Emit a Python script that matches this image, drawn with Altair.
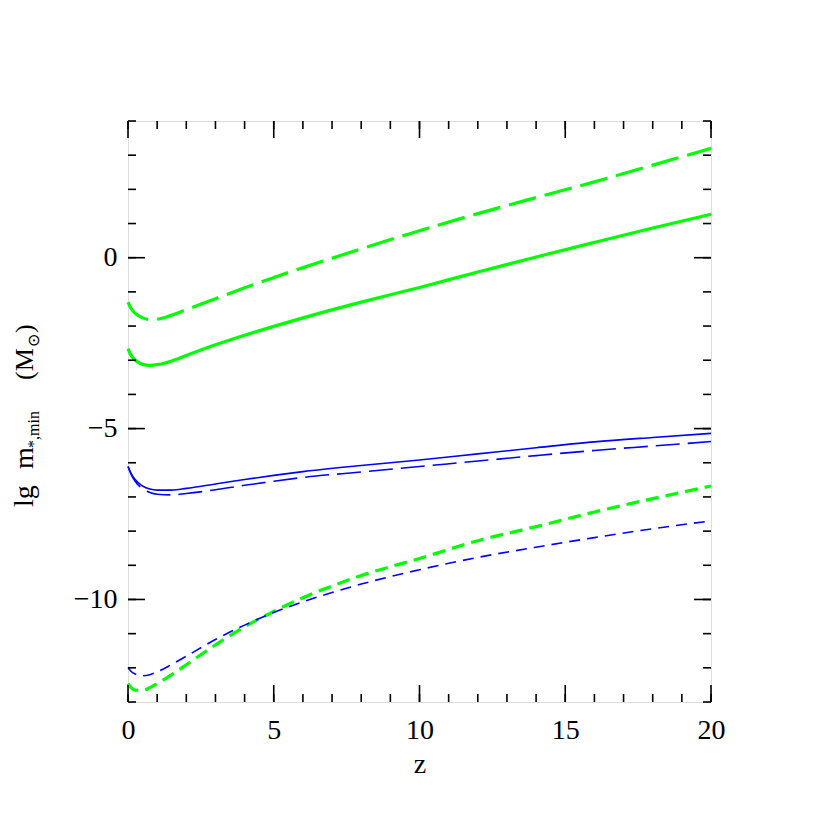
import altair as alt
import pandas as pd

# redshift grid
z = [0, 0.1, 0.25, 0.5, 0.75, 1, 1.5, 2, 3, 4, 5, 6, 8, 10, 12, 14, 16, 18, 20]

green_longdash = [-1.30, -1.48, -1.63, -1.76, -1.81, -1.80, -1.68, -1.52, -1.20, -0.88,
                  -0.58, -0.29, 0.26, 0.79, 1.29, 1.76, 2.22, 2.71, 3.20]
green_solid = [-2.66, -2.85, -3.00, -3.12, -3.15, -3.13, -3.02, -2.86, -2.55, -2.27,
               -2.01, -1.76, -1.30, -0.87, -0.42, 0.02, 0.45, 0.87, 1.27]
blue_solid = [-6.11, -6.30, -6.50, -6.68, -6.77, -6.80, -6.80, -6.75, -6.62, -6.49,
              -6.37, -6.26, -6.08, -5.92, -5.74, -5.56, -5.39, -5.26, -5.14]
blue_longdash = [-6.11, -6.33, -6.55, -6.76, -6.87, -6.92, -6.94, -6.90, -6.79, -6.66,
                 -6.54, -6.43, -6.27, -6.11, -5.95, -5.79, -5.64, -5.51, -5.38]
green_shortdash = [-12.46, -12.57, -12.65, -12.66, -12.58, -12.46, -12.20, -11.91, -11.33, -10.80,
                   -10.35, -9.95, -9.30, -8.80, -8.28, -7.87, -7.44, -7.05, -6.68]
blue_shortdash = [-11.99, -12.10, -12.18, -12.23, -12.20, -12.12, -11.90, -11.66, -11.17, -10.75,
                  -10.38, -10.07, -9.55, -9.13, -8.77, -8.47, -8.19, -7.93, -7.70]

x_minor = list(range(0, 21))
x_major = [0, 5, 10, 15, 20]
y_minor = list(range(-13, 5))
y_major = [-10, -5, 0]

W, H = 583, 581
GREEN = "#00ff00"
BLUE = "#0000ff"
FONT = "Liberation Serif"

xs = alt.Scale(domain=[0, 20], nice=False, zero=False)
ys = alt.Scale(domain=[-13, 4], nice=False, zero=False)

def line(vals, color, width, dash):
    df = pd.DataFrame({"z": z, "v": vals})
    kw = dict(color=color, strokeWidth=width, interpolate="monotone")
    if dash:
        kw["strokeDash"] = dash
    return alt.Chart(df).mark_line(**kw).encode(
        x=alt.X("z:Q", scale=xs,
                axis=alt.Axis(values=x_major, ticks=False, domain=False, grid=False,
                              labelFontSize=28, labelFont=FONT, labelPadding=14,
                              labelFlush=False, labelColor="black", title="z",
                              titleFont=FONT, titleFontSize=28, titleFontWeight="normal",
                              titleColor="black", titlePadding=6)),
        y=alt.Y("v:Q", scale=ys,
                axis=alt.Axis(values=y_major, ticks=False, domain=False, grid=False,
                              labelFontSize=28, labelFont=FONT, labelPadding=11,
                              labelFlush=False, labelColor="black", title=None)),
    )

layers = [
    line(green_longdash, GREEN, 3.2, [28, 9]),
    line(green_solid, GREEN, 3.2, None),
    line(blue_solid, BLUE, 1.6, None),
    line(blue_longdash, BLUE, 1.6, [24, 8]),
    line(green_shortdash, GREEN, 3.2, [13, 7]),
    line(blue_shortdash, BLUE, 1.6, [11, 7]),
]

def xticks(vals, length):
    df = pd.DataFrame({"t": vals})
    base = alt.Chart(df).mark_rule(color="black", strokeWidth=1.6)
    bot = base.encode(x=alt.X("t:Q", scale=xs), y=alt.value(H), y2=alt.value(H - length))
    top = base.encode(x=alt.X("t:Q", scale=xs), y=alt.value(0), y2=alt.value(length))
    return [bot, top]

def yticks(vals, length):
    df = pd.DataFrame({"t": vals})
    base = alt.Chart(df).mark_rule(color="black", strokeWidth=1.6)
    left = base.encode(y=alt.Y("t:Q", scale=ys), x=alt.value(0), x2=alt.value(length))
    right = base.encode(y=alt.Y("t:Q", scale=ys), x=alt.value(W), x2=alt.value(W - length))
    return [left, right]

ticks = xticks(x_minor, 8) + xticks(x_major, 17) + yticks(y_minor, 8) + yticks(y_major, 17)

# y-axis title pieces (rotated text with subscripts)
title_parts = [
    ("lg", 28, -95, 386),
    ("m", 28, -95, 348),
    ("*,min", 16, -89, 327),
    ("(M", 26, -95, 259),
    ("⊙", 16, -89, 226),
    (")", 26, -95, 212),
]
title_layers = []
for txt, fs, px, py in title_parts:
    title_layers.append(
        alt.Chart(pd.DataFrame({"t": [txt]})).mark_text(
            angle=270, align="left", baseline="alphabetic", font=FONT,
            fontSize=fs, color="black"
        ).encode(text="t:N", x=alt.value(px), y=alt.value(py))
    )

chart = alt.layer(*layers, *ticks, *title_layers).properties(
    width=W, height=H,
    autosize=alt.AutoSizeParams(type="none"),
    padding={"left": 120, "top": 113, "right": 111, "bottom": 120},
).configure_view(stroke="black", strokeWidth=2).configure(background="white")

chart.save("out.html", embed_options={"renderer": "svg", "actions": False})
